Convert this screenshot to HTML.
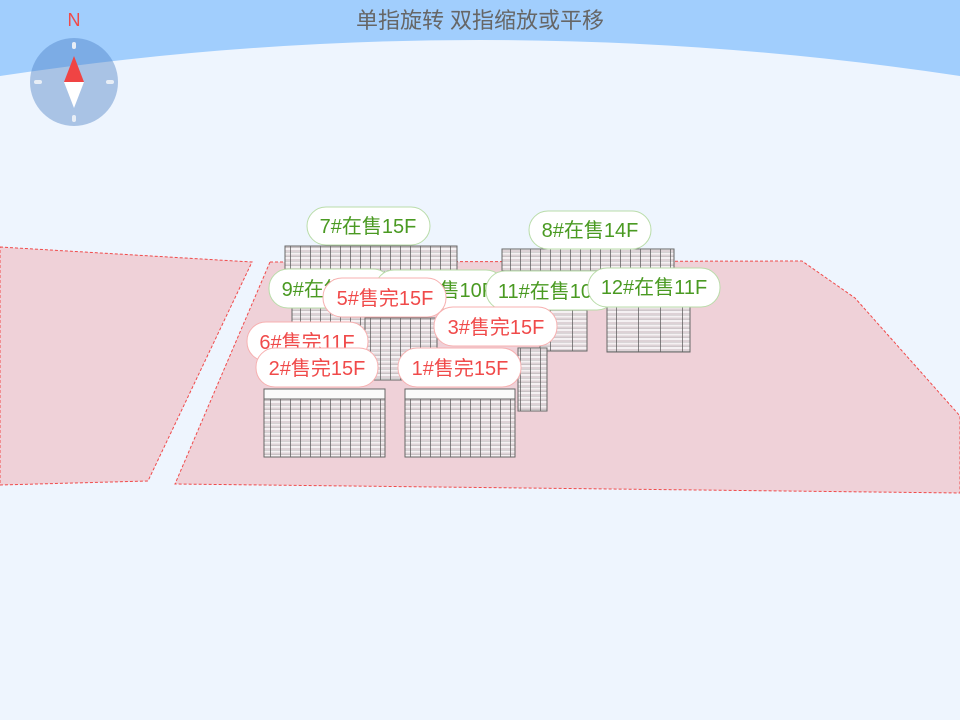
<!DOCTYPE html>
<html><head><meta charset="utf-8"><style>
html,body{margin:0;padding:0;width:960px;height:720px;overflow:hidden;background:#eef5fe}
svg{display:block}
text{font-family:"Liberation Sans","Noto Sans CJK SC",sans-serif}
</style></head><body>
<svg width="960" height="720" viewBox="0 0 960 720" xmlns="http://www.w3.org/2000/svg">
<defs>
<pattern id="g" width="10" height="4.5" patternUnits="userSpaceOnUse">
<rect width="10" height="4.5" fill="#f5f1f3"/>
<rect y="2.5" width="10" height="2" fill="#ddd2d6"/>
<line x1="0" y1="0" x2="10" y2="0" stroke="#888" stroke-width="0.6"/>
<line x1="0.5" y1="0" x2="0.5" y2="4.5" stroke="#555" stroke-width="0.7"/>
</pattern>
<pattern id="g2" width="22" height="4.5" patternUnits="userSpaceOnUse">
<rect width="22" height="4.5" fill="#f5f1f3"/>
<rect y="2.5" width="22" height="2" fill="#ddd2d6"/>
<line x1="0" y1="0" x2="22" y2="0" stroke="#888" stroke-width="0.6"/>
<line x1="0.5" y1="0" x2="0.5" y2="4.5" stroke="#555" stroke-width="0.7"/>
</pattern>
</defs>
<rect width="960" height="720" fill="#eef5fe"/>
<path d="M0,0 H960 V76 Q480,4 0,76 Z" fill="#a1cefd"/>
<text x="480" y="28" font-size="22" fill="#666" text-anchor="middle">单指旋转 双指缩放或平移</text>

<polygon points="0,247 252,262 148,481 0,485" fill="#efd1d8" stroke="#f04a4a" stroke-width="1" stroke-dasharray="3,2"/>
<polygon points="270,262 802,261 855,298 960,416 960,493 175,484" fill="#efd1d8" stroke="#f04a4a" stroke-width="1" stroke-dasharray="3,2"/>

<!-- compass -->
<text x="74" y="26" font-size="18" fill="#f04a4a" text-anchor="middle">N</text>
<circle cx="74" cy="82" r="44" fill="#4a7fc4" fill-opacity="0.42"/>
<rect x="72" y="42" width="4" height="7" rx="2" fill="#e8eef6"/>
<rect x="72" y="115" width="4" height="7" rx="2" fill="#e8eef6"/>
<rect x="34" y="80" width="8" height="4" rx="2" fill="#e8eef6"/>
<rect x="106" y="80" width="8" height="4" rx="2" fill="#e8eef6"/>
<polygon points="74,56 64,82 84,82" fill="#f04444"/>
<polygon points="74,108 64,82 84,82" fill="#fff"/>

<!-- buildings -->
<g stroke="#666" stroke-width="1">
<rect x="285" y="246" width="172" height="26" fill="url(#g)"/>
<rect x="502" y="249" width="172" height="22" fill="url(#g)"/>
<rect x="292" y="308" width="80" height="30" fill="url(#g)"/>
<rect x="365" y="318" width="72" height="62" fill="url(#g)"/>
<rect x="540" y="310" width="47" height="41" fill="url(#g2)"/>
<rect x="607" y="307" width="83" height="45" fill="url(#g2)"/>
<rect x="518" y="348" width="29" height="63" fill="url(#g)"/>
<rect x="264" y="389" width="121" height="68" fill="url(#g)"/>
<rect x="405" y="389" width="110" height="68" fill="url(#g)"/>
</g>
<rect x="264" y="389" width="121" height="10" fill="#fafafa" stroke="#666"/>
<rect x="405" y="389" width="110" height="10" fill="#fafafa" stroke="#666"/>

<!-- labels -->
<g font-size="20" text-anchor="middle">
<rect x="307" y="207" width="123" height="38" rx="19" fill="#fff" stroke="#b9dca9"/>
<text x="368" y="233" fill="#4a9a22">7#在售15F</text>
<rect x="529" y="211" width="122" height="38" rx="19" fill="#fff" stroke="#b9dca9"/>
<text x="590" y="237" fill="#4a9a22">8#在售14F</text>
<rect x="269" y="269" width="123" height="39" rx="19" fill="#fff" stroke="#b9dca9"/>
<text x="330" y="296" fill="#4a9a22">9#在售15F</text>
<rect x="375" y="270" width="130" height="39" rx="19" fill="#fff" stroke="#b9dca9"/>
<text x="440" y="297" fill="#4a9a22">10#在售10F</text>
<rect x="486" y="271" width="130" height="39" rx="19" fill="#fff" stroke="#b9dca9"/>
<text x="551" y="298" fill="#4a9a22">11#在售10F</text>
<rect x="588" y="268" width="132" height="39" rx="19" fill="#fff" stroke="#b9dca9"/>
<text x="654" y="294" fill="#4a9a22">12#在售11F</text>
<rect x="323" y="278" width="123" height="39" rx="19" fill="#fff" stroke="#f7b0b0"/>
<text x="385" y="305" fill="#f04a4a">5#售完15F</text>
<rect x="434" y="307" width="123" height="39" rx="19" fill="#fff" stroke="#f7b0b0"/>
<text x="496" y="334" fill="#f04a4a">3#售完15F</text>
<rect x="247" y="322" width="121" height="39" rx="19" fill="#fff" stroke="#f7b0b0"/>
<text x="307" y="349" fill="#f04a4a">6#售完11F</text>
<rect x="256" y="348" width="122" height="39" rx="19" fill="#fff" stroke="#f7b0b0"/>
<text x="317" y="375" fill="#f04a4a">2#售完15F</text>
<rect x="398" y="348" width="123" height="39" rx="19" fill="#fff" stroke="#f7b0b0"/>
<text x="460" y="375" fill="#f04a4a">1#售完15F</text>
</g>
</svg>
</body></html>
